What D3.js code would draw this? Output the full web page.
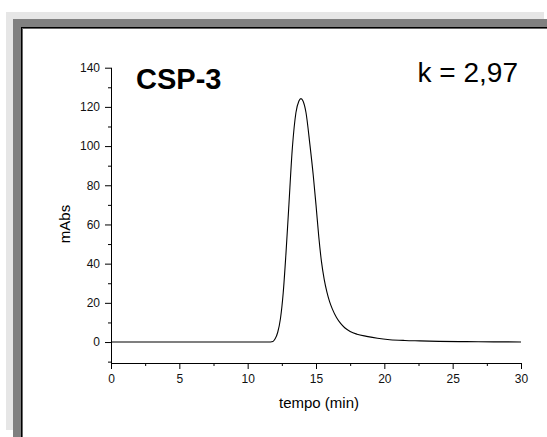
<!DOCTYPE html>
<html><head><meta charset="utf-8">
<script src="https://cdn.jsdelivr.net/npm/d3@7"></script>
<style>html,body{margin:0;padding:0;background:#fff;}svg{display:block;}</style>
</head><body>
<script>
const times = [0, 5, 11.5, 11.85, 12.0, 12.2, 12.4, 12.6, 12.8, 13.0, 13.27, 13.53, 13.75, 13.9, 14.05, 14.27, 14.55, 14.8, 15.0, 15.2, 15.4, 15.6, 15.8, 16.0, 16.2, 16.5, 16.8, 17.1, 17.5, 18.0, 18.7, 19.5, 20.4, 21.5, 22.6, 24, 26, 28, 30];
const absorb = [0, 0, 0, 0.3, 1.5, 5, 12, 25, 45, 68, 99, 117, 123, 124.2, 123, 117, 101, 85, 70, 54, 41, 32, 25.5, 20.5, 16.8, 12.5, 9.5, 7.3, 5.4, 4.0, 2.9, 1.9, 1.2, 0.8, 0.6, 0.35, 0.2, 0.1, 0.05];
const xTicks = [0, 5, 10, 15, 20, 25, 30];
const xMinor = [2.5, 7.5, 12.5, 17.5, 22.5, 27.5];
const yTicks = [0, 20, 40, 60, 80, 100, 120, 140];
const yMinor = [-10, 10, 30, 50, 70, 90, 110, 130];
const title = "CSP-3";
const kLabel = "k = 2,97";

const W = 547, H = 437;
const svg = d3.select("body").append("svg").attr("width", W).attr("height", H);
const font = "Arial, 'Liberation Sans', sans-serif";

// window frame
svg.append("rect").attr("x", 6).attr("y", 12).attr("width", 538).attr("height", 418).attr("fill", "#e6e6e6");
svg.append("rect").attr("x", 13).attr("y", 19).attr("width", 534).attr("height", 418).attr("fill", "#808080");
svg.append("rect").attr("x", 21).attr("y", 27).attr("width", 526).attr("height", 410).attr("fill", "#000");
svg.append("rect").attr("x", 22).attr("y", 28).attr("width", 525).attr("height", 409).attr("fill", "#666");
svg.append("rect").attr("x", 23).attr("y", 29).attr("width", 524).attr("height", 408).attr("fill", "#fff");

const x = d3.scaleLinear().domain([0, 30]).range([111, 521]);
const y = d3.scaleLinear().domain([-10.7, 140]).range([363, 67.7]);

// x axis
const gx = svg.append("g").attr("transform", `translate(0,${y(-10.7)})`)
  .call(d3.axisBottom(x).tickValues(xTicks).tickSize(6).tickPadding(5).tickFormat(d3.format("d")));
svg.append("g").attr("transform", `translate(0,${y(-10.7)})`)
  .call(d3.axisBottom(x).tickValues(xMinor).tickSize(3).tickFormat(""))
  .select(".domain").remove();
// y axis
const gy = svg.append("g").attr("transform", `translate(${x(0)},0)`)
  .call(d3.axisLeft(y).tickValues(yTicks).tickSize(6).tickPadding(5).tickFormat(d3.format("d")));
svg.append("g").attr("transform", `translate(${x(0)},0)`)
  .call(d3.axisLeft(y).tickValues(yMinor).tickSize(3).tickFormat(""))
  .select(".domain").remove();

svg.selectAll(".tick text").attr("font-family", font).attr("font-size", 12).attr("fill", "#111");
gx.select(".domain").attr("stroke", "#000").attr("d", `M${x(0)},0.5H${x(30)}`);
gy.select(".domain").attr("stroke", "#000").attr("d", `M0.5,${y(140)}V${y(-10.7)}`);

// data line
const data = times.map((t, i) => ({t, v: absorb[i]}));
svg.append("path").datum(data)
  .attr("fill", "none").attr("stroke", "#000").attr("stroke-width", 1.1)
  .attr("d", d3.line().x(d => x(d.t)).y(d => y(d.v)).curve(d3.curveMonotoneX));

// labels
svg.append("text").attr("x", 319).attr("y", 408).attr("text-anchor", "middle")
  .attr("font-family", font).attr("font-size", 15).text("tempo (min)");
svg.append("text").attr("transform", "translate(70,224) rotate(-90)").attr("text-anchor", "middle")
  .attr("font-family", font).attr("font-size", 15).text("mAbs");
svg.append("text").attr("x", 136).attr("y", 89).attr("font-family", font)
  .attr("font-size", 29).attr("font-weight", "bold").text(title);
svg.append("text").attr("x", 518).attr("y", 82).attr("text-anchor", "end").attr("font-family", font)
  .attr("font-size", 28).text(kLabel);
</script>
</body></html>
